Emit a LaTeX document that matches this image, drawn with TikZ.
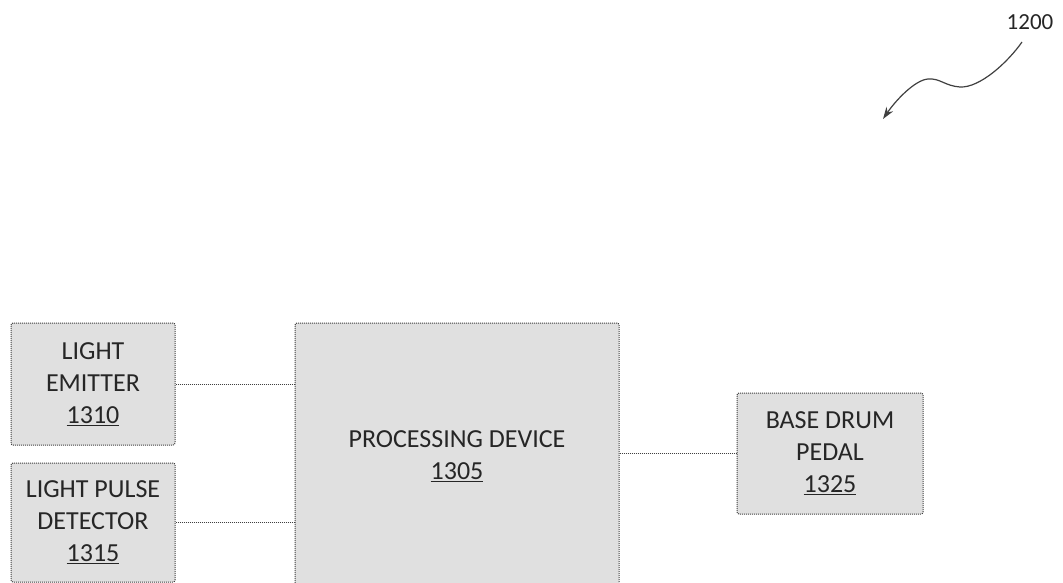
\documentclass[tikz,border=0pt]{standalone}
\usepackage{fontspec}
\setmainfont{Carlito}
\usetikzlibrary{arrows.meta}
\tikzset{
  blk/.style={draw=black!75, densely dotted, line width=1pt, fill=black!12, rounded corners=2pt,
    inner sep=0pt, align=center, font=\fontsize{26}{32}\selectfont, text=black!85},
  wire/.style={draw=black!75, densely dotted, line width=1pt},
  refl/.style={font=\fontsize{23}{28}\selectfont, text=black!85}
}
\begin{document}
\begin{tikzpicture}[x=1pt,y=-1pt]
\clip (0,0) rectangle (1063,583);
\fill[white] (0,0) rectangle (1063,583);
\node[blk, minimum width=164pt, minimum height=122pt] (emitter) at (93,384) {LIGHT\\EMITTER\\\underline{1310}};
\node[blk, minimum width=164pt, minimum height=119pt] (detector) at (93,522.5) {LIGHT PULSE\\DETECTOR\\\underline{1315}};
\node[blk, minimum width=324pt, minimum height=266pt] (proc) at (457,456) {PROCESSING DEVICE\\\underline{1305}};
\node[blk, minimum width=186pt, minimum height=121pt] (pedal) at (830,453.5) {BASE DRUM\\PEDAL\\\underline{1325}};
\draw[wire] (emitter.east) -- (emitter.east -| proc.west);
\draw[wire] (detector.east) -- (detector.east -| proc.west);
\draw[wire] (proc.east |- pedal.west) -- (pedal.west);
\node[refl] (ref) at (1030,22) {1200};
\coordinate (s) at (1022,42);
\coordinate (e) at (883,119);
\draw[black!75, line width=1.2pt, -{Stealth[length=12pt,width=8pt]}] (s) .. controls (1008,62) and (980,88) .. (960,87) .. controls (945,86) and (940,78) .. (928,79) .. controls (915,80) and (896,100) .. (e);
\end{tikzpicture}
\end{document}
